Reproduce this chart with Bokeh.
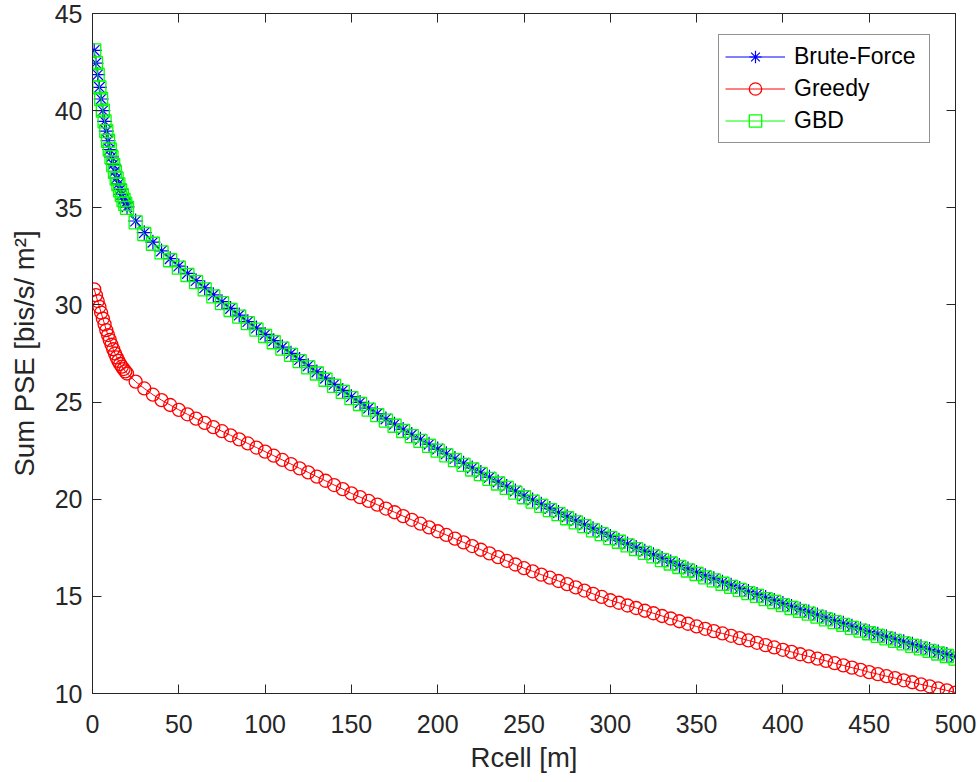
from bokeh.plotting import figure
from bokeh.models import Range1d, LinearAxis, Legend, LegendItem, FixedTicker
from bokeh.embed import file_html
from bokeh.resources import INLINE

# ---- data ----
rcell = list(range(1, 21)) + list(range(25, 505, 5))

brute_force = [43.10, 42.45, 41.85, 41.20, 40.60, 40.00, 39.45, 38.95, 38.45, 38.00,
               37.62, 37.23, 36.88, 36.53, 36.23, 35.94, 35.69, 35.44, 35.25, 35.05,
               34.32, 33.72, 33.23, 32.78, 32.38, 32.00,
               31.62, 31.25, 30.88, 30.52, 30.17, 29.82, 29.48, 29.14, 28.81, 28.48,
               28.16, 27.83, 27.51, 27.19, 26.87, 26.55, 26.23, 25.91, 25.60, 25.28,
               24.98, 24.69, 24.41, 24.13, 23.86, 23.59, 23.33, 23.08, 22.83, 22.58,
               22.34, 22.09, 21.85, 21.61, 21.37, 21.13, 20.89, 20.66, 20.42, 20.18,
               19.96, 19.74, 19.52, 19.31, 19.10, 18.89, 18.69, 18.48, 18.28, 18.08,
               17.89, 17.70, 17.51, 17.32, 17.14, 16.95, 16.77, 16.59, 16.41, 16.23,
               16.06, 15.90, 15.73, 15.57, 15.41, 15.25, 15.10, 14.94, 14.79, 14.63,
               14.48, 14.33, 14.19, 14.04, 13.90, 13.75, 13.61, 13.46, 13.32, 13.18,
               13.05, 12.92, 12.79, 12.66, 12.53, 12.40, 12.27, 12.14, 12.01, 11.88]

greedy = [30.80, 30.50, 30.20, 29.90, 29.60, 29.30, 29.00, 28.70, 28.45, 28.20,
          27.95, 27.72, 27.50, 27.30, 27.12, 26.96, 26.82, 26.70, 26.58, 26.47,
          26.05, 25.70, 25.38, 25.10, 24.85, 24.60,
          24.37, 24.15, 23.93, 23.71, 23.50, 23.29, 23.08, 22.87, 22.66, 22.45,
          22.24, 22.02, 21.81, 21.59, 21.38, 21.16, 20.95, 20.73, 20.52, 20.30,
          20.11, 19.91, 19.72, 19.52, 19.33, 19.13, 18.94, 18.74, 18.55, 18.35,
          18.16, 17.97, 17.78, 17.59, 17.40, 17.21, 17.02, 16.83, 16.64, 16.45,
          16.29, 16.12, 15.96, 15.79, 15.63, 15.46, 15.30, 15.13, 14.97, 14.80,
          14.67, 14.53, 14.40, 14.26, 14.13, 13.99, 13.86, 13.72, 13.59, 13.45,
          13.33, 13.21, 13.09, 12.97, 12.85, 12.73, 12.61, 12.49, 12.37, 12.25,
          12.14, 12.02, 11.91, 11.79, 11.68, 11.56, 11.45, 11.33, 11.22, 11.10,
          11.00, 10.89, 10.79, 10.68, 10.58, 10.47, 10.37, 10.26, 10.16, 10.05]

gbd = [43.10, 42.45, 41.85, 41.20, 40.60, 40.00, 39.45, 38.95, 38.45, 38.00,
       37.60, 37.20, 36.85, 36.50, 36.20, 35.90, 35.65, 35.40, 35.20, 35.00,
       34.25, 33.65, 33.15, 32.70, 32.30, 31.92,
       31.54, 31.17, 30.80, 30.44, 30.09, 29.74, 29.40, 29.06, 28.73, 28.40,
       28.08, 27.75, 27.43, 27.11, 26.79, 26.47, 26.15, 25.83, 25.52, 25.20,
       24.90, 24.61, 24.33, 24.05, 23.78, 23.51, 23.25, 23.00, 22.75, 22.50,
       22.26, 22.01, 21.77, 21.53, 21.29, 21.05, 20.81, 20.58, 20.34, 20.10,
       19.88, 19.66, 19.44, 19.23, 19.02, 18.81, 18.61, 18.40, 18.20, 18.00,
       17.81, 17.62, 17.43, 17.24, 17.06, 16.87, 16.69, 16.51, 16.33, 16.15,
       15.98, 15.82, 15.65, 15.49, 15.33, 15.17, 15.02, 14.86, 14.71, 14.55,
       14.40, 14.25, 14.11, 13.96, 13.82, 13.67, 13.53, 13.38, 13.24, 13.10,
       12.97, 12.84, 12.71, 12.58, 12.45, 12.32, 12.19, 12.06, 11.93, 11.80]

x_ticks = [0, 50, 100, 150, 200, 250, 300, 350, 400, 450, 500]
y_ticks = [10, 15, 20, 25, 30, 35, 40, 45]

FONT = "Liberation Sans"
AX = "#262626"

p = figure(width=977, height=782, output_backend="svg", toolbar_location=None,
           x_range=Range1d(0, 500), y_range=Range1d(10, 45),
           min_border_left=92, min_border_right=22, min_border_top=13,
           min_border_bottom=89)
p.grid.visible = False
p.outline_line_color = AX
p.outline_line_width = 1
p.background_fill_color = "white"
p.border_fill_color = "white"

def style_axis(ax, labels=True):
    ax.axis_line_color = AX
    ax.major_tick_line_color = AX
    ax.major_tick_in = 9
    ax.major_tick_out = 0
    ax.minor_tick_line_color = None
    if labels:
        ax.major_label_text_font = FONT
        ax.major_label_text_font_size = "25px"
        ax.major_label_text_color = AX
        ax.axis_label_text_font = FONT
        ax.axis_label_text_font_size = "27.5px"
        ax.axis_label_text_font_style = "normal"
        ax.axis_label_text_color = AX
    else:
        ax.major_label_text_color = None
        ax.major_label_text_font_size = "1px"
        ax.major_label_standoff = 0

p.xaxis.ticker = FixedTicker(ticks=x_ticks)
p.yaxis.ticker = FixedTicker(ticks=y_ticks)
p.xaxis.axis_label = "Rcell [m]"
p.yaxis.axis_label = "Sum PSE [bis/s/ m²]"
style_axis(p.xaxis[0])
style_axis(p.yaxis[0])
p.xaxis.major_label_standoff = 21
p.yaxis.major_label_standoff = 10
p.xaxis.axis_label_standoff = 6
p.yaxis.axis_label_standoff = 12

top = LinearAxis(ticker=FixedTicker(ticks=x_ticks))
right = LinearAxis(ticker=FixedTicker(ticks=y_ticks))
style_axis(top, labels=False)
style_axis(right, labels=False)
p.add_layout(top, "above")
p.add_layout(right, "right")

# Brute-Force
l1 = p.line(rcell, brute_force, line_color="#0000FF", line_width=1)
m1 = p.scatter(rcell, brute_force, marker="asterisk", size=15,
               line_color="#0000FF", line_width=1.2)
# Greedy
l2 = p.line(rcell, greedy, line_color="#FF0000", line_width=1)
m2 = p.scatter(rcell, greedy, marker="circle", size=13, fill_color=None,
               line_color="#FF0000", line_width=1.3)
# GBD
l3 = p.line(rcell, gbd, line_color="#00FF00", line_width=1)
m3 = p.scatter(rcell, gbd, marker="square", size=13, fill_color=None,
               line_color="#00FF00", line_width=1.3)

legend = Legend(items=[
    LegendItem(label="Brute-Force", renderers=[l1, m1]),
    LegendItem(label="Greedy", renderers=[l2, m2]),
    LegendItem(label="GBD", renderers=[l3, m3]),
], location=(626, 550))
legend.label_text_font = FONT
legend.label_text_font_size = "23px"
legend.label_text_color = "black"
legend.glyph_width = 60
legend.glyph_height = 31
legend.label_height = 31
legend.label_width = 129
legend.label_standoff = 9
legend.spacing = 1
legend.padding = 6
legend.margin = 0
legend.border_line_color = AX
legend.border_line_width = 1
legend.background_fill_alpha = 1
p.add_layout(legend, "center")

open("out.html", "w").write(file_html(p, INLINE))
